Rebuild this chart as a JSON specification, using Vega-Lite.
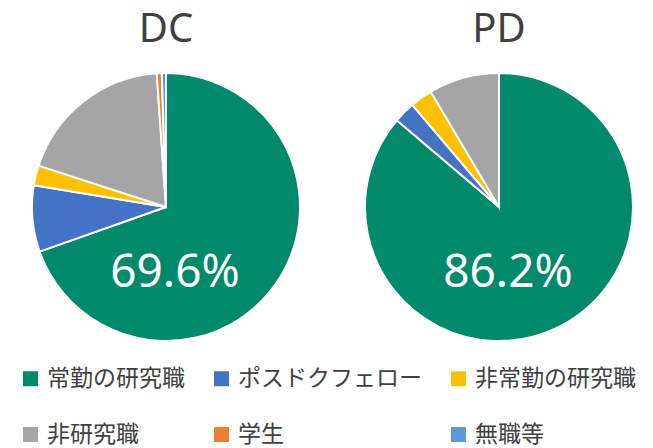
{
  "$schema": "https://vega.github.io/schema/vega-lite/v6.json",
  "padding": {"left": 19, "top": 10, "right": 5, "bottom": 5},
  "background": "white",
  "data": {
    "values": [
      {"group": "DC", "rank": 1, "category": "常勤の研究職", "value": 0.696},
      {"group": "DC", "rank": 2, "category": "ポスドクフェロー", "value": 0.080},
      {"group": "DC", "rank": 3, "category": "非常勤の研究職", "value": 0.024},
      {"group": "DC", "rank": 4, "category": "非研究職", "value": 0.189},
      {"group": "DC", "rank": 5, "category": "学生", "value": 0.006},
      {"group": "DC", "rank": 6, "category": "無職等", "value": 0.005},
      {"group": "PD", "rank": 1, "category": "常勤の研究職", "value": 0.862},
      {"group": "PD", "rank": 2, "category": "ポスドクフェロー", "value": 0.026},
      {"group": "PD", "rank": 3, "category": "非常勤の研究職", "value": 0.027},
      {"group": "PD", "rank": 4, "category": "非研究職", "value": 0.085},
      {"group": "PD", "rank": 5, "category": "学生", "value": 0.0},
      {"group": "PD", "rank": 6, "category": "無職等", "value": 0.0}
    ]
  },
  "facet": {
    "column": {
      "field": "group",
      "type": "nominal",
      "sort": ["DC", "PD"],
      "header": {"title": null, "labelFontSize": 40, "labelColor": "#404040", "labelFont": "Noto Sans", "labelPadding": 19}
    }
  },
  "spacing": 57,
  "spec": {
    "width": 268,
    "height": 268,
    "layer": [
      {
        "mark": {"type": "arc", "stroke": "white", "strokeWidth": 2},
        "encoding": {
          "theta": {"field": "value", "type": "quantitative", "stack": true},
          "order": {"field": "rank", "type": "quantitative", "sort": "ascending"},
          "color": {
            "field": "category",
            "type": "nominal",
            "sort": ["常勤の研究職", "ポスドクフェロー", "非常勤の研究職", "非研究職", "学生", "無職等"],
            "scale": {
              "domain": ["常勤の研究職", "ポスドクフェロー", "非常勤の研究職", "非研究職", "学生", "無職等"],
              "range": ["#00896B", "#4472C4", "#FFC000", "#A5A5A5", "#ED7D31", "#5B9BD5"]
            },
            "legend": {
              "title": null,
              "orient": "none",
              "legendX": -13,
              "legendY": 294,
              "direction": "horizontal",
              "columns": 3,
              "gridAlign": "each",
              "columnPadding": 25,
              "rowPadding": 32,
              "symbolType": "square",
              "symbolSize": 225,
              "symbolStrokeWidth": 0,
              "labelFontSize": 23,
              "labelFont": "Noto Sans CJK JP",
              "labelColor": "#404040",
              "labelOffset": 5,
              "labelLimit": 400
            }
          }
        }
      },
      {
        "transform": [{"filter": "datum.category === '常勤の研究職'"}],
        "mark": {"type": "text", "color": "white", "fontSize": 46, "font": "Noto Sans", "dx": 9, "dy": 66, "align": "center", "baseline": "middle"},
        "encoding": {
          "text": {"field": "value", "type": "quantitative", "format": ".1%"}
        }
      }
    ]
  }
}
